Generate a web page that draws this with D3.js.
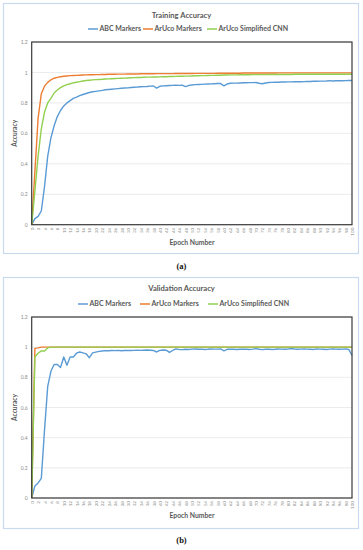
<!DOCTYPE html>
<html>
<head>
<meta charset="utf-8">
<script src="https://cdnjs.cloudflare.com/ajax/libs/d3/7.8.5/d3.min.js"></script>
<style>
  body { margin: 0; background: #fff; }
  svg { display: block; font-family: Lato, "Open Sans", sans-serif; }
</style>
</head>
<body>
<svg id="chart" width="363" height="550"></svg>
<script>
// epochs 0..100 (category axis), labels every 2nd epoch
var epochs = d3.range(0, 101);
var tickEpochs = epochs.filter(function(e) { return e % 2 === 0; });
var yTicks = [0, 0.2, 0.4, 0.6, 0.8, 1, 1.2];
var seriesNames = ['ABC Markers', 'ArUco Markers', 'ArUco Simplified CNN'];

var trainABC = [0, 0.04, 0.055, 0.09, 0.25, 0.45, 0.57, 0.65, 0.71, 0.75,
  0.78, 0.8, 0.815, 0.83, 0.838, 0.848, 0.855, 0.862, 0.868, 0.873,
  0.876, 0.879, 0.882, 0.886, 0.888, 0.89, 0.892, 0.894, 0.896, 0.898,
  0.899, 0.901, 0.903, 0.904, 0.906, 0.907, 0.908, 0.91, 0.911, 0.897,
  0.909, 0.912, 0.913, 0.914, 0.915, 0.916, 0.915, 0.917, 0.907, 0.914,
  0.918, 0.92, 0.921, 0.922, 0.923, 0.924, 0.925, 0.926, 0.927, 0.927,
  0.912, 0.924, 0.929, 0.93, 0.93, 0.931, 0.932, 0.932, 0.933, 0.933,
  0.934, 0.929, 0.926, 0.931, 0.934, 0.935, 0.936, 0.936, 0.937, 0.937,
  0.938, 0.938, 0.939, 0.94, 0.939, 0.94, 0.941, 0.941, 0.942, 0.942,
  0.943, 0.943, 0.944, 0.946, 0.944, 0.945, 0.946, 0.945, 0.946, 0.947, 0.947];

var trainArUco = [0, 0.35, 0.7, 0.86, 0.91, 0.935, 0.952, 0.962, 0.968, 0.972,
  0.975, 0.977, 0.979, 0.98, 0.981, 0.982, 0.983, 0.984, 0.985, 0.985,
  0.986, 0.986, 0.987, 0.987, 0.988, 0.988, 0.988, 0.989, 0.989, 0.989,
  0.99, 0.99, 0.99, 0.99, 0.991, 0.991, 0.991, 0.991, 0.991, 0.992,
  0.992, 0.992, 0.992, 0.992, 0.992, 0.993, 0.993, 0.993, 0.993, 0.993,
  0.993, 0.994, 0.994, 0.994, 0.994, 0.994, 0.994, 0.994, 0.995, 0.995,
  0.995, 0.995, 0.995, 0.995, 0.995, 0.995, 0.996, 0.996, 0.996, 0.996,
  0.996, 0.996, 0.996, 0.996, 0.996, 0.996, 0.996, 0.997, 0.997, 0.997,
  0.997, 0.997, 0.997, 0.997, 0.997, 0.997, 0.997, 0.997, 0.997, 0.997,
  0.997, 0.997, 0.997, 0.997, 0.997, 0.997, 0.997, 0.997, 0.997, 0.997, 0.997];

var trainSimplified = [0, 0.22, 0.45, 0.63, 0.74, 0.8, 0.83, 0.865, 0.885, 0.9,
  0.912, 0.92, 0.926, 0.932, 0.936, 0.94, 0.944, 0.947, 0.949, 0.951,
  0.953, 0.954, 0.955, 0.957, 0.958, 0.959, 0.96, 0.961, 0.962, 0.963,
  0.964, 0.965, 0.966, 0.967, 0.967, 0.968, 0.969, 0.969, 0.97, 0.97,
  0.971, 0.972, 0.972, 0.973, 0.973, 0.974, 0.975, 0.975, 0.976, 0.976,
  0.977, 0.978, 0.978, 0.979, 0.979, 0.98, 0.981, 0.981, 0.982, 0.982,
  0.983, 0.983, 0.984, 0.984, 0.984, 0.985, 0.985, 0.985, 0.985, 0.986,
  0.986, 0.986, 0.986, 0.986, 0.987, 0.987, 0.987, 0.987, 0.987, 0.987,
  0.987, 0.987, 0.988, 0.988, 0.988, 0.988, 0.988, 0.988, 0.988, 0.988,
  0.988, 0.988, 0.988, 0.988, 0.988, 0.988, 0.988, 0.988, 0.988, 0.988, 0.988];

var valABC = [0, 0.08, 0.1, 0.13, 0.45, 0.74, 0.84, 0.885, 0.885, 0.865,
  0.935, 0.88, 0.935, 0.935, 0.96, 0.968, 0.962, 0.956, 0.93, 0.962,
  0.967, 0.972, 0.975, 0.977, 0.976, 0.978, 0.977, 0.979, 0.976, 0.978,
  0.979, 0.978, 0.979, 0.98, 0.979, 0.98, 0.981, 0.98, 0.978, 0.968,
  0.979, 0.981, 0.98, 0.965, 0.978, 0.988, 0.985, 0.984, 0.986, 0.985,
  0.987, 0.988, 0.986, 0.987, 0.985, 0.986, 0.988, 0.987, 0.987, 0.988,
  0.976, 0.986, 0.987, 0.986, 0.985, 0.986, 0.987, 0.986, 0.985, 0.987,
  0.99, 0.986, 0.984, 0.986, 0.987, 0.985, 0.986, 0.988, 0.987, 0.986,
  0.987, 0.991, 0.988, 0.986, 0.987, 0.988, 0.987, 0.986, 0.985, 0.988,
  0.987, 0.986, 0.985, 0.987, 0.988, 0.987, 0.986, 0.987, 0.988, 0.985, 0.945];

var valArUco = [0, 0.992, 0.995, 1, 1, 1, 1, 1, 1, 1,
  1, 1, 1, 1, 1, 1, 1, 1, 1, 1,
  1, 1, 1, 1, 1, 1, 1, 1, 1, 1,
  1, 1, 1, 1, 1, 1, 1, 1, 1, 1,
  1, 1, 1, 1, 1, 1, 1, 1, 1, 1,
  1, 1, 1, 1, 1, 1, 1, 1, 1, 1,
  1, 1, 1, 1, 1, 1, 1, 1, 1, 1,
  1, 1, 1, 1, 1, 1, 1, 1, 1, 1,
  1, 1, 1, 1, 1, 1, 1, 1, 1, 1,
  1, 1, 1, 1, 1, 1, 1, 1, 1, 1, 1];

var valSimplified = [0, 0.935, 0.96, 0.975, 0.975, 0.995, 1, 1, 1, 1,
  1, 1, 1, 1, 1, 1, 1, 1, 1, 1,
  1, 1, 1, 1, 1, 1, 1, 1, 1, 1,
  1, 1, 1, 1, 1, 1, 1, 1, 1, 1,
  1, 1, 1, 1, 1, 1, 1, 1, 1, 1,
  1, 1, 1, 1, 1, 1, 1, 1, 1, 1,
  1, 1, 1, 1, 1, 1, 1, 1, 1, 1,
  1, 1, 1, 1, 1, 1, 1, 1, 1, 1,
  1, 1, 1, 1, 1, 1, 1, 1, 1, 1,
  1, 1, 1, 1, 1, 1, 1, 1, 1, 1, 1];

var colors = ['#5B9BD5', '#ED7D31', '#92D050'];

var svg = d3.select('#chart');

/**
 * Draw one bordered chart panel.
 */
function drawPanel(cfg) {
  var g = svg.append('g').attr('transform', 'translate(0,' + cfg.top + ')');

  // outer frame
  g.append('rect')
    .attr('x', 3.5).attr('y', 0.5)
    .attr('width', 355).attr('height', cfg.height)
    .attr('fill', '#fff')
    .attr('stroke', '#C9DAF0').attr('stroke-width', 1.2);

  var x = d3.scalePoint().domain(epochs).range([31.7, 352]);
  var y = d3.scaleLinear().domain([0, 1.2]).range([cfg.plotBottom, cfg.plotTop]);

  // gridlines
  g.selectAll('.grid').data(yTicks).enter().append('line')
    .attr('x1', 31.7).attr('x2', 352)
    .attr('y1', function(d) { return y(d); }).attr('y2', function(d) { return y(d); })
    .attr('stroke', '#E6E6E6').attr('stroke-width', 0.8);

  // y axis labels
  var yAxis = d3.axisLeft(y).tickValues(yTicks).tickSize(0).tickPadding(4)
    .tickFormat(function(d) { return d3.format('')(+d.toFixed(1)); });
  var ya = g.append('g').attr('transform', 'translate(31.7,0)').call(yAxis);
  ya.select('.domain').remove();
  ya.selectAll('text').attr('font-size', 5).attr('fill', '#8c8c8c').attr('font-family', 'Lato, sans-serif');

  // x axis labels
  var xAxis = d3.axisBottom(x).tickValues(tickEpochs).tickSize(0).tickPadding(0);
  var xa = g.append('g').attr('transform', 'translate(0,' + cfg.plotBottom + ')').call(xAxis);
  xa.select('.domain').remove();
  xa.selectAll('text')
    .attr('font-size', 4.6).attr('fill', '#8c8c8c').attr('font-family', 'Lato, sans-serif')
    .attr('text-anchor', 'end')
    .attr('transform', 'translate(0,3) rotate(-90)')
    .attr('x', 0).attr('y', 0).attr('dy', '0.35em');

  // series lines
  var line = d3.line()
    .x(function(d, i) { return x(epochs[i]); })
    .y(function(d) { return y(d); });
  cfg.series.forEach(function(s, i) {
    g.append('path')
      .datum(s)
      .attr('fill', 'none')
      .attr('stroke', colors[i])
      .attr('stroke-width', 1.4)
      .attr('stroke-linejoin', 'round')
      .attr('d', line);
  });

  // plot area frame
  g.append('rect')
    .attr('x', 31.7).attr('y', cfg.plotTop)
    .attr('width', 352 - 31.7).attr('height', cfg.plotBottom - cfg.plotTop)
    .attr('fill', 'none').attr('stroke', '#3a3a3a').attr('stroke-width', 1.2);

  // title
  g.append('text')
    .attr('x', 181.5).attr('y', cfg.titleY)
    .attr('text-anchor', 'middle')
    .attr('font-size', 7.6).attr('font-weight', 'bold').attr('fill', '#595959')
    .text(cfg.title);

  // legend
  cfg.legendX.forEach(function(lx, i) {
    g.append('line')
      .attr('x1', lx).attr('x2', lx + 10)
      .attr('y1', cfg.legendY).attr('y2', cfg.legendY)
      .attr('stroke', colors[i]).attr('stroke-width', 1.5);
    g.append('text')
      .attr('x', lx + 11.5).attr('y', cfg.legendY)
      .attr('dy', '0.35em')
      .attr('font-size', 7).attr('font-weight', 'bold').attr('fill', '#595959')
      .text(seriesNames[i]);
  });

  // axis titles
  g.append('text')
    .attr('transform', 'translate(15,' + ((cfg.plotTop + cfg.plotBottom) / 2) + ') rotate(-90)')
    .attr('text-anchor', 'middle').attr('dy', '0.35em')
    .attr('font-size', 6.6).attr('font-weight', 'bold').attr('fill', '#595959')
    .text('Accuracy');
  g.append('text')
    .attr('x', 192).attr('y', cfg.xTitleY)
    .attr('text-anchor', 'middle').attr('dy', '0.35em')
    .attr('font-size', 6.8).attr('font-weight', 'bold').attr('fill', '#595959')
    .text('Epoch Number');

  // caption under the panel
  g.append('text')
    .attr('x', 181.5).attr('y', cfg.captionY)
    .attr('text-anchor', 'middle').attr('dy', '0.35em')
    .attr('font-size', 8.5).attr('font-weight', 'bold').attr('fill', '#111')
    .attr('font-family', '"Liberation Serif", serif')
    .text(cfg.caption);
}

drawPanel({
  top: 3, height: 250,
  plotTop: 39, plotBottom: 221.7,
  title: 'Training Accuracy', titleY: 15,
  legendY: 26, legendX: [88, 143, 207],
  xTitleY: 240, caption: '(a)', captionY: 263,
  series: [trainABC, trainArUco, trainSimplified]
});

drawPanel({
  top: 277, height: 251,
  plotTop: 40, plotBottom: 221,
  title: 'Validation Accuracy', titleY: 14,
  legendY: 27, legendX: [78, 140, 208],
  xTitleY: 239, caption: '(b)', captionY: 263,
  series: [valABC, valArUco, valSimplified]
});
</script>
</body>
</html>
